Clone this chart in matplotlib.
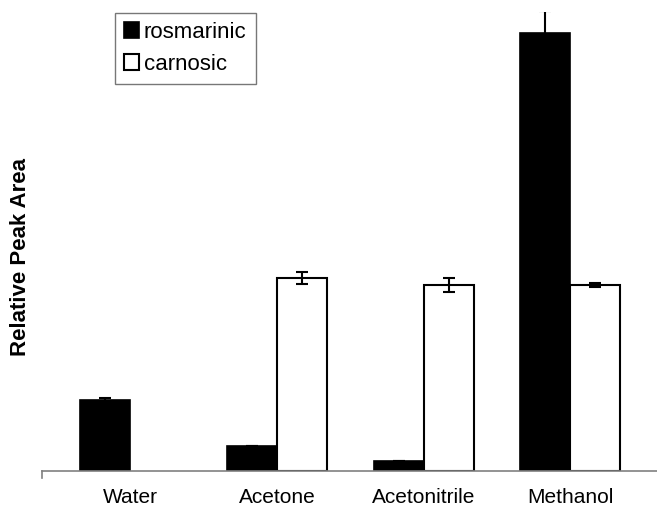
import matplotlib.pyplot as plt
import numpy as np

plt.rcParams['font.family'] = ['Liberation Sans', 'DejaVu Sans']

# extraction solvents and relative peak areas (arbitrary units)
solvents = ['Water', 'Acetone', 'Acetonitrile', 'Methanol']
rosmarinic = [0.71, 0.25, 0.10, 4.38]
rosmarinic_err = [0.02, 0.0, 0.0, 0.22]
carnosic = [0.0, 1.93, 1.86, 1.86]
carnosic_err = [0.0, 0.06, 0.07, 0.02]

pos = np.arange(len(solvents))
width = 0.34

fig = plt.figure(figsize=(6.57, 5.13), dpi=100)
ax = fig.add_axes([42 / 657, 42 / 513, 615 / 657, 459 / 513])

ax.bar(pos - width / 2, rosmarinic, width, color='black', edgecolor='black',
       linewidth=1.2, label='rosmarinic',
       yerr=rosmarinic_err, error_kw=dict(ecolor='black', elinewidth=1.5, capsize=4, capthick=1.5))
# water had no carnosic peak, so no bar there
c_pos = pos[1:] + width / 2
ax.bar(c_pos, carnosic[1:], width, color='white', edgecolor='black',
       linewidth=1.5, label='carnosic',
       yerr=carnosic_err[1:], error_kw=dict(ecolor='black', elinewidth=1.5, capsize=4, capthick=1.5))

ax.set_xlim(-0.6, 3.59)
ax.set_ylim(0, 4.59)
ax.set_xticks(pos)
ax.set_xticklabels(solvents, fontsize=15)
ax.tick_params(axis='x', length=0, pad=12)
ax.set_yticks([])

for s in ['top', 'right', 'left']:
    ax.spines[s].set_visible(False)
ax.spines['bottom'].set_color('#808080')
ax.spines['bottom'].set_linewidth(1.2)
# small tick at the left end of the axis
ax.plot([-0.6, -0.6], [0, -0.07], color='#808080', lw=1.2, clip_on=False)

fig.text(21 / 657, 0.5, 'Relative Peak Area', rotation=90, fontsize=16,
         fontweight='bold', ha='center', va='center')

leg = fig.legend(loc='upper left', bbox_to_anchor=(115 / 657, 1 - 13 / 513),
                 fontsize=16, frameon=True, fancybox=False, borderaxespad=0,
                 handlelength=0.7, handleheight=0.7, handletextpad=0.2,
                 labelspacing=0.5, borderpad=0.4)
leg.get_frame().set_edgecolor('#555555')
leg.get_frame().set_linewidth(1.0)

fig.savefig('out.png', dpi=100)
